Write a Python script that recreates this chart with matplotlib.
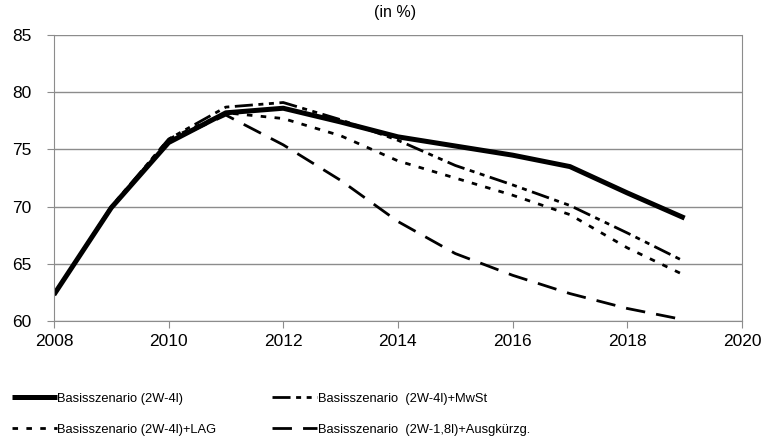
import matplotlib.pyplot as plt

plt.rcParams['font.family'] = ['Liberation Sans', 'DejaVu Sans']

years = [2008, 2009, 2010, 2011, 2012, 2013, 2014, 2015, 2016, 2017, 2018, 2019]

basis = [62.3, 69.9, 75.6, 78.2, 78.6, 77.4, 76.1, 75.3, 74.5, 73.5, 71.2, 69.0]
mwst = [62.3, 70.0, 75.9, 78.7, 79.1, 77.6, 75.8, 73.6, 71.9, 70.1, 67.7, 65.2]
lag = [62.3, 69.9, 75.9, 78.2, 77.7, 76.2, 74.0, 72.5, 71.0, 69.3, 66.4, 64.0]
ausg = [62.3, 69.9, 75.7, 78.0, 75.4, 72.3, 68.7, 65.9, 64.0, 62.4, 61.1, 60.1]

labels = ['Basisszenario (2W-4l)', 'Basisszenario  (2W-4l)+MwSt',
          'Basisszenario (2W-4l)+LAG', 'Basisszenario  (2W-1,8l)+Ausgkürzg.']

fig = plt.figure(figsize=(7.81, 4.41), dpi=100)
ax = fig.add_axes([0.069, 0.272, 0.881, 0.6486])

gray = '#8c8c8c'
l1, = ax.plot(years, basis, color='black', lw=3.6, solid_capstyle='butt')
l2, = ax.plot(years, mwst, color='black', lw=2, dashes=(6.5, 2, 1.8, 2, 1.8, 2))
l3, = ax.plot(years, lag, color='black', lw=2, dashes=(2, 3))
l4, = ax.plot(years, ausg, color='black', lw=2, dashes=(7, 4))

ax.set_xlim(2008, 2020)
ax.set_ylim(60, 85)
ax.set_xticks(range(2008, 2021, 2))
ax.set_yticks(range(60, 86, 5))
ax.yaxis.grid(True, color=gray, lw=1)
ax.set_axisbelow(True)
for s in ['left', 'right', 'bottom']:
    ax.spines[s].set_color(gray)
ax.spines['top'].set_visible(False)
ax.tick_params(axis='both', colors=gray, labelcolor='black', labelsize=12.5, length=5, direction='out')
ax.tick_params(axis='x', pad=4.5)
ax.tick_params(axis='y', pad=11)

fig.text(0.506, 0.972, '(in %)', ha='center', va='center', fontsize=11.5)

fig.legend([l1, l3, l2, l4], [labels[0], labels[2], labels[1], labels[3]],
           ncol=2, loc='lower left', bbox_to_anchor=(0.0, -0.014), frameon=False,
           fontsize=9.3, handlelength=3.5, handletextpad=0.05, columnspacing=4.3,
           labelspacing=1.45)

fig.savefig('out.png', dpi=100)
